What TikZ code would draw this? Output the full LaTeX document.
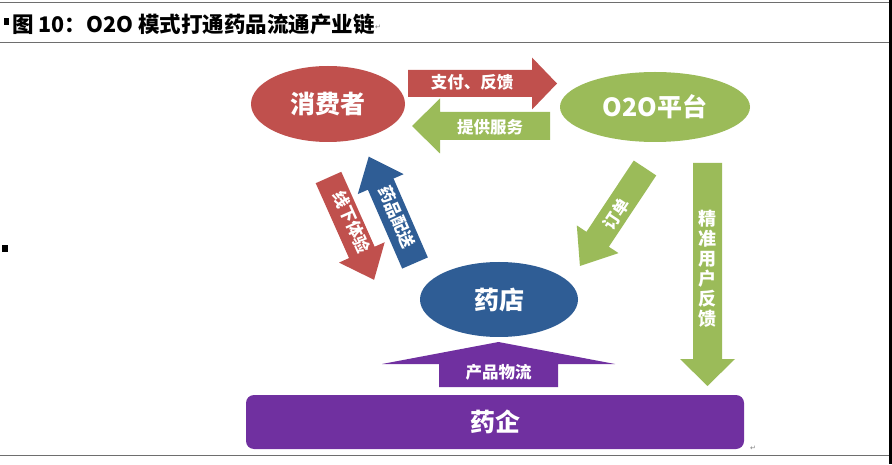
\documentclass[tikz,border=0pt]{standalone}
\usepackage{fontspec}
\usetikzlibrary{shapes.geometric}
\newfontfamily\cjk{Noto Sans CJK SC}
\newfontfamily\djv{DejaVu Sans}
\definecolor{cred}{HTML}{C0504D}
\definecolor{cgreen}{HTML}{9BBB59}
\definecolor{cblue}{HTML}{2F5D95}
\definecolor{cpurple}{HTML}{7030A0}
\definecolor{rulegray}{HTML}{6E6E6E}
\tikzset{
  ell/.style={ellipse, fill=#1, text=white, inner sep=0pt,
    font=\cjk\bfseries\fontsize{25}{25}\selectfont},
  lbl/.style={text=white, inner sep=0pt, font=\cjk\bfseries\fontsize{16.5}{16.5}\selectfont},
  rulel/.style={draw=rulegray, line width=0.9pt},
  retmark/.style={text=gray, inner sep=0pt, font=\djv\fontsize{7}{7}\selectfont},
}
% tail centre, angle, length, body half-width, head half-width, head length, colour
\newcommand\blockarrow[7]{%
  \begin{scope}[shift={#1},rotate=#2]
    \fill[#7] (0,-#4) -- ({#3-#6},-#4) -- ({#3-#6},-#5) -- (#3,0)
      -- ({#3-#6},#5) -- ({#3-#6},#4) -- (0,#4) -- cycle;
  \end{scope}}
\begin{document}
\begin{tikzpicture}[x=1pt,y=1pt]
\useasboundingbox (0,0) rectangle (892,464);
\fill[white] (0,0) rectangle (892,464);
% frame rules
\draw[rulel] (0,462) -- (889,462);
\draw[rulel] (0,422) -- (889,422);
\draw[rulel] (0,9) -- (889,9);
\fill[black] (889,0) rectangle (892,464);
% bullets
\fill[black] (4,439) rectangle (9,446);
\fill[black] (2,212) rectangle (8,219);
% title
\node[anchor=west, inner sep=0pt, font=\cjk\bfseries\fontsize{21.5}{21.5}\selectfont] (title) at (12,440)
  {图 10：O2O 模式打通药品流通产业链};
\node[retmark, anchor=west] (ret1) at ([yshift=-3pt]title.east) {↵};
\node[retmark] (ret2) at (753,16) {↵};

% main shapes
\node[ell=cred, minimum width=154pt, minimum height=76pt] (cons) at (328,360) {消费者};
\node[ell=cgreen, minimum width=190pt, minimum height=70pt] (plat) at (655,357) {O2O平台};
\node[ell=cblue, minimum width=158pt, minimum height=75pt] (shop) at (499,164.5) {药店};
\node[fill=cpurple, rounded corners=8pt, minimum width=498pt, minimum height=54pt, inner sep=0pt,
  text=white, font=\cjk\bfseries\fontsize{25}{25}\selectfont] (ent) at (495,42) {药企};

% block arrows
\blockarrow{(408,380.5)}{0}{149}{13.5}{26}{25}{cred}
\node[lbl] (pay) at (472,381.5) {支付、反馈};
\blockarrow{(550,338)}{180}{138}{14}{27.5}{28}{cgreen}
\node[lbl] (serve) at (490,337) {提供服务};
\blockarrow{(328.5,286.5)}{-66}{112}{14}{25}{30}{cred}
\node[lbl, rotate=-66] (offline) at (352,242) {线下体验};
\blockarrow{(415,201)}{113.5}{116}{14}{25}{30}{cblue}
\node[lbl, rotate=-66.5] (deliv) at (397,247) {药品配送};
\blockarrow{(645,296)}{236.4}{117.6}{13.5}{25}{32}{cgreen}
\node[lbl, rotate=56.4] (order) at (616,250) {订单};
\blockarrow{(707.5,301)}{-90}{223}{14.5}{27.5}{27}{cgreen}
\node[lbl, align=center, font=\cjk\bfseries\fontsize{18}{20}\selectfont] (fb) at (707.5,195)
  {精\\准\\用\\户\\反\\馈};
\blockarrow{(498.5,77)}{90}{45}{59.5}{116.5}{22}{cpurple}
\node[lbl] (logi) at (498.5,92) {产品物流};
\end{tikzpicture}
\end{document}
